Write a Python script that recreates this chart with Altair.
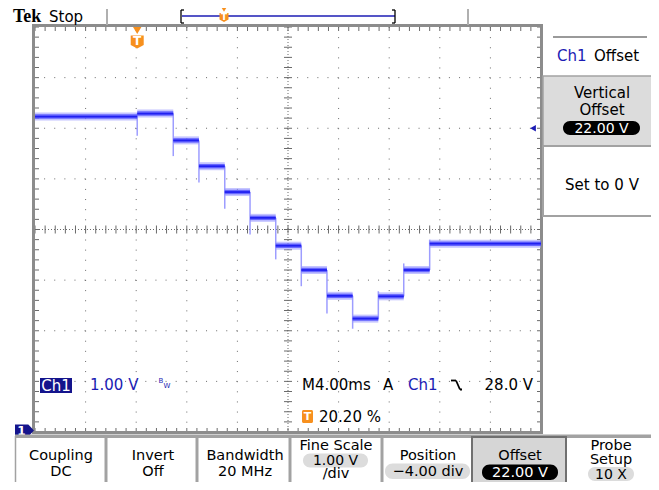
import altair as alt
import pandas as pd

# ---------------- values ----------------
# Ch1 1.00 V/div, offset 22.00 V, position -4.00 div -> bottom graticule line = 22 V
# Horizontal 4.00 ms/div, trigger at 20.20 % of the record (t = 0 ms)
edge_ms = [0.0, 2.85, 4.88, 6.92, 8.92, 10.95, 12.97, 15.00, 17.03, 19.06, 21.07, 23.12]
level_v = [28.23, 28.29, 27.76, 27.25, 26.74, 26.23, 25.68, 25.20, 24.69, 24.24, 24.68, 25.20, 25.72]
edge_hi_v = [28.29, 28.29, 27.76, 27.25, 26.74, 26.23, 25.68, 25.20, 24.69, 24.78, 25.33, 25.80]
edge_lo_v = [27.85, 27.45, 26.93, 26.41, 25.90, 25.41, 24.88, 24.34, 24.04, 24.24, 24.68, 25.20]
t_left_ms, t_right_ms = -8.08, 31.92
v_bottom, v_top = 22.0, 30.0
trigger_level_v = 28.0
trigger_time_ms = 0.0

seg = pd.DataFrame({"start": [t_left_ms] + edge_ms,
                    "end": edge_ms + [t_right_ms],
                    "v": level_v})
edges = pd.DataFrame({"t": edge_ms, "hi": edge_hi_v, "lo": edge_lo_v})

# ---------------- layout ----------------
W, H = 506, 405          # graticule
OX, OY = 35, 27          # graticule origin on the page
UI = "DejaVu Sans"
BLUE = "#1c1cb4"
NAVY = "#14148c"
ORANGE = "#f7901e"
GRID = "#6a6a6a"
LGRAY = "#dcdcdc"
MGRAY = "#a2a2a2"

xs = alt.Scale(domain=[t_left_ms, t_right_ms], nice=False, zero=False)
ys = alt.Scale(domain=[v_bottom, v_top], nice=False, zero=False)


def X(f):
    return alt.X(f, type="quantitative", scale=xs, axis=None)


def Y(f):
    return alt.Y(f, type="quantitative", scale=ys, axis=None)


one = alt.Data(values=[{}])


def text(s, x, y, size=15, color="black", align="center", weight="normal", font=UI):
    return alt.Chart(one).mark_text(text=s, fontSize=size, color=color, align=align,
                                    baseline="middle", font=font, fontWeight=weight).encode(
        x=alt.value(x - OX), y=alt.value(y - OY))


def rect(x1, y1, x2, y2, fill, stroke=None, sw=0, r=0, fo=1):
    kw = dict(fill=fill, cornerRadius=r, fillOpacity=fo)
    if stroke:
        kw.update(stroke=stroke, strokeWidth=sw)
    return alt.Chart(one).mark_rect(**kw).encode(
        x=alt.value(x1 - OX), x2=alt.value(x2 - OX),
        y=alt.value(y1 - OY), y2=alt.value(y2 - OY))


def line(x1, y1, x2, y2, color, w=1):
    return alt.Chart(one).mark_rule(color=color, strokeWidth=w).encode(
        x=alt.value(x1 - OX), x2=alt.value(x2 - OX),
        y=alt.value(y1 - OY), y2=alt.value(y2 - OY))


def shape(sh, x, y, size, color):
    return alt.Chart(one).mark_point(shape=sh, filled=True, size=size, color=color,
                                     opacity=1, strokeWidth=0).encode(
        x=alt.value(x - OX), y=alt.value(y - OY))


layers = []

# ---------------- graticule ----------------
seq_t_major = alt.Chart(alt.sequence(1, 10, 1, as_="i")).transform_calculate(
    t=f"{t_left_ms} + 4*datum.i")
seq_v_major = alt.Chart(alt.sequence(1, 8, 1, as_="i")).transform_calculate(
    v=f"{v_bottom} + datum.i")
layers.append(seq_t_major.transform_filter("datum.i != 5").mark_rule(
    color=GRID, strokeWidth=1, strokeDash=[1, 9.12]).encode(x=X("t")))
layers.append(seq_v_major.transform_filter("datum.i != 4").mark_rule(
    color=GRID, strokeWidth=1, strokeDash=[1, 9.12]).encode(y=Y("v")))
layers.append(seq_t_major.transform_filter("datum.i == 5").mark_rule(
    color=GRID, strokeWidth=1, strokeDash=[1, 2]).encode(x=X("t")))
layers.append(seq_v_major.transform_filter("datum.i == 4").mark_rule(
    color=GRID, strokeWidth=1, strokeDash=[1, 2]).encode(y=Y("v")))

seq_t_minor = alt.Chart(alt.sequence(0, 51, 1, as_="i")).transform_calculate(
    t=f"{t_left_ms} + 0.8*datum.i")
seq_v_minor = alt.Chart(alt.sequence(0, 41, 1, as_="i")).transform_calculate(
    v=f"{v_bottom} + 0.2*datum.i")
for y1, y2 in [(0, 4), (H - 4, H), (H / 2 - 4, H / 2 + 4)]:
    layers.append(seq_t_minor.mark_rule(color=GRID, strokeWidth=1).encode(
        x=X("t"), y=alt.value(y1), y2=alt.value(y2)))
for x1, x2 in [(0, 4), (W - 4, W), (W / 2 - 4, W / 2 + 4)]:
    layers.append(seq_v_minor.mark_rule(color=GRID, strokeWidth=1).encode(
        y=Y("v"), x=alt.value(x1), x2=alt.value(x2)))

# border
layers.append(alt.Chart(one).mark_rect(fillOpacity=0, stroke="#8c8c8c", strokeWidth=3).encode(
    x=alt.value(-1.5), x2=alt.value(W + 0.5), y=alt.value(-1.5), y2=alt.value(H + 0.5)))

# ---------------- waveform ----------------
layers.append(alt.Chart(edges).mark_rule(color="#8c8cff", strokeWidth=1.5, opacity=0.85).encode(
    x=X("t"), y=Y("hi"), y2="lo"))
layers.append(alt.Chart(seg).mark_rule(color="#9c9cff", strokeWidth=8, opacity=0.6).encode(
    x=X("start"), x2="end", y=Y("v")))
layers.append(alt.Chart(seg).mark_rule(color="#5050ff", strokeWidth=4.5, opacity=0.8).encode(
    x=X("start"), x2="end", y=Y("v")))
layers.append(alt.Chart(seg).mark_rule(color="#2020f0", strokeWidth=1.8).encode(
    x=X("start"), x2="end", y=Y("v")))

# ---------------- markers tied to scales ----------------
SHIELD = "M -1 -1 L 1 -1 L 1 0.45 L 0 1 L -1 0.45 Z"
trig_t = alt.Chart(pd.DataFrame({"t": [trigger_time_ms]}))
layers.append(trig_t.mark_point(shape="triangle-down", filled=True, size=70, color=ORANGE,
                                opacity=1, strokeWidth=0).encode(x=X("t"), y=alt.value(30.5 - OY)))
layers.append(trig_t.mark_point(shape=SHIELD, filled=True, size=169, color=ORANGE,
                                opacity=1, strokeWidth=0).encode(x=X("t"), y=alt.value(42 - OY)))
layers.append(trig_t.mark_text(text="T", color="white", fontSize=12, fontWeight="bold",
                               font=UI, baseline="middle").encode(x=X("t"), y=alt.value(41 - OY)))

trig_v = alt.Chart(pd.DataFrame({"v": [trigger_level_v]}))
layers.append(trig_v.mark_point(shape="triangle-left", filled=True, size=45, color=BLUE,
                                opacity=1, strokeWidth=0).encode(x=alt.value(533 - OX), y=Y("v")))

PENT = "M -1 -0.63 L 0.4 -0.63 L 1 0 L 0.4 0.63 L -1 0.63 Z"
gnd = alt.Chart(pd.DataFrame({"v": [v_bottom]}))
layers.append(gnd.mark_point(shape=PENT, filled=True, size=361, color=NAVY, opacity=1,
                             strokeWidth=0, yOffset=-1.5).encode(x=alt.value(24.5 - OX), y=Y("v")))
layers.append(gnd.mark_text(text="1", color="white", fontSize=12, fontWeight="bold", font=UI,
                            baseline="middle", yOffset=-1.5).encode(x=alt.value(21.5 - OX), y=Y("v")))

# ---------------- top bar ----------------
layers += [
    text("Tek", 13, 17, size=18, weight="bold", align="left", font="Liberation Serif"),
    text("Stop", 49, 16.5, size=15, align="left"),
    line(107, 9, 107, 25, "#b0b0b0", 2),
    line(468, 9, 468, 25, "#b0b0b0", 2),
    line(182, 16, 395, 16, BLUE, 1.5),
    line(181, 10, 181, 23, "black", 1.3),
    line(181, 10, 184, 10, "black", 1.3),
    line(181, 23, 184, 23, "black", 1.3),
    line(395, 10, 395, 23, "black", 1.3),
    line(392, 10, 395, 10, "black", 1.3),
    line(392, 23, 395, 23, "black", 1.3),
    shape("triangle-down", 224, 9.5, 30, ORANGE),
    shape(SHIELD, 224, 17.5, 81, ORANGE),
    text("T", 224, 17, size=9, color="white", weight="bold"),
]

# ---------------- right side panel ----------------
layers += [
    line(553, 37, 647, 37, "#9a9a9a", 2),
    text("Ch1", 557, 56, color=BLUE, align="left"),
    text("Offset", 594, 56, align="left"),
    rect(543, 76, 659, 146, LGRAY, stroke=MGRAY, sw=1.5),
    text("Vertical", 602, 93),
    text("Offset", 602, 110),
    rect(563, 121, 640, 135, "black", r=7),
    text("22.00 V", 601.5, 128.5, size=14, color="white"),
    rect(543, 146, 657, 216, "white", stroke=MGRAY, sw=2),
    text("Set to 0 V", 602, 185),
]

# ---------------- readouts inside graticule ----------------
layers += [
    rect(40, 378, 72, 393, NAVY),
    text("Ch1", 56, 385.5, color="white"),
    text("1.00 V", 90, 385, color=BLUE, align="left"),
    text("B", 161, 381, size=7, color=BLUE),
    text("W", 167, 386, size=7, color=BLUE),
    text("M4.00ms", 302, 385, align="left"),
    text("A", 388, 385),
    text("Ch1", 408, 385, color=BLUE, align="left"),
    line(451, 380.5, 456, 380.5, "black", 1.8),
    line(456, 380.5, 460, 389.5, "black", 1.8),
    line(460, 389.5, 462, 389.5, "black", 1.8),
    text("28.0 V", 533, 385, align="right"),
    rect(302, 410, 313, 423, ORANGE, r=1.5),
    text("T", 307.5, 416.5, size=11, color="white", weight="bold"),
    text("20.20 %", 319, 416.5, align="left"),
]

# ---------------- bottom soft-key row ----------------
layers += [
    rect(15, 434.5, 659, 438, MGRAY),
    rect(472, 437, 566, 491, "#d6d6d6", stroke="#707070", sw=2),
]
for xv in [15.5, 106, 197, 290, 382, 656]:
    layers.append(line(xv, 436, xv, 490, MGRAY, 3 if xv not in (15.5, 656) else 1.5))

layers += [
    text("Coupling", 61, 456, size=14.5), text("DC", 61, 472, size=14.5),
    text("Invert", 153, 456, size=14.5), text("Off", 153, 472, size=14.5),
    text("Bandwidth", 245, 456, size=14.5), text("20 MHz", 245, 472, size=14.5),
    text("Fine Scale", 336, 446, size=14.5),
    rect(303, 453.5, 368, 467.5, LGRAY, r=7),
    text("1.00 V", 335.5, 460.5, size=14),
    text("/div", 336, 474, size=14.5),
    text("Position", 428, 456, size=14.5),
    rect(385, 463.5, 470, 479, LGRAY, r=7.5),
    text("\u22124.00 div", 428, 471.5, size=14.5),
    text("Offset", 520, 456, size=14.5),
    rect(482, 464.5, 558, 480, "black", r=7.5),
    text("22.00 V", 520, 472.5, size=14.5, color="white"),
    text("Probe", 611, 446, size=14.5), text("Setup", 611, 460, size=14.5),
    rect(588, 467, 634, 481, LGRAY, r=7),
    text("10 X", 611, 474.5, size=14),
]

# whole view = 643 x 474 so that page (with its 8px margins) is exactly 659 x 490
chart = alt.layer(*layers).properties(
    width=W, height=H,
    padding={"left": 27, "top": 19, "right": 110, "bottom": 50},
    autosize=alt.AutoSizeParams(type="none"),
    background="white",
).configure_view(strokeWidth=0)

chart.save("out.html", embed_options={"renderer": "svg", "actions": False})
